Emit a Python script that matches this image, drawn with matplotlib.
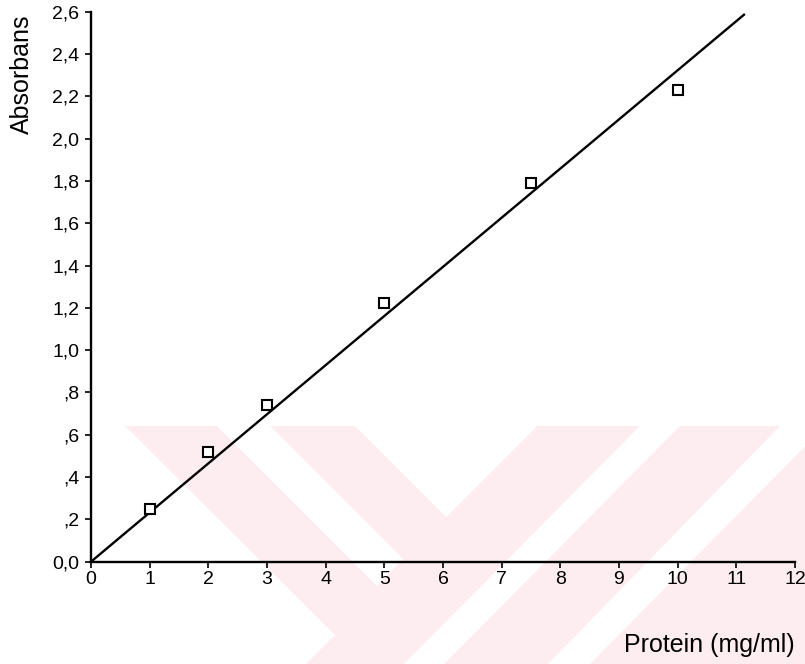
import numpy as np
import matplotlib
matplotlib.use("Agg")
import matplotlib.pyplot as plt
from matplotlib.patches import Polygon

# ---- data
protein = [1, 2, 3, 5, 7.5, 10]             # mg/ml
absorb = [0.25, 0.52, 0.74, 1.225, 1.79, 2.23]
line_x_end = 11.13                          # where the fitted line stops

x_ticks = list(range(0, 13))
y_ticks = [0.0, 0.2, 0.4, 0.6, 0.8, 1.0, 1.2, 1.4, 1.6, 1.8, 2.0, 2.2, 2.4, 2.6]
y_tick_labels = ['0,0', ',2', ',4', ',6', ',8', '1,0', '1,2', '1,4', '1,6',
                 '1,8', '2,0', '2,2', '2,4', '2,6']

# least squares line through the origin
slope = np.sum(np.array(protein) * np.array(absorb)) / np.sum(np.array(protein) ** 2)
fit_x = np.array([0.0, line_x_end])
fit_y = slope * fit_x

plt.rcParams['font.family'] = ['Liberation Sans', 'DejaVu Sans']

W, H = 805, 664
fig = plt.figure(figsize=(W / 100, H / 100), dpi=100)

# faint pink watermark in the lower part (pixel coords, y from top)
def px(pts):
    return [(x / W, 1 - y / H) for x, y in pts]

pink = '#fdedf0'
fig.patches.append(Polygon(px([(125, 426), (805, 426), (805, 664), (306, 664), (335, 635)]),
                           closed=True, transform=fig.transFigure, fc=pink, ec='none', zorder=-2))
white_bits = [
    [(217, 426), (270, 426), (403, 559), (377, 586)],      # gap between left bands
    [(355, 426), (537, 426), (446, 517)],                  # the V notch
    [(640, 426), (680, 426), (444, 664), (404, 664)],      # first down-left gap
    [(780, 426), (825, 426), (590, 664), (548, 664)],      # second down-left gap
]
for pts in white_bits:
    fig.patches.append(Polygon(px(pts), closed=True, transform=fig.transFigure,
                               fc='white', ec='none', zorder=-1))

ax = fig.add_axes([91 / W, 1 - 561.7 / H, (795 - 91) / W, (561.7 - 11.7) / H])
ax.set_zorder(2)
ax.patch.set_alpha(0)

ax.plot(fit_x, fit_y, color='black', lw=1.7, clip_on=False)
ax.plot(protein, absorb, linestyle='none', marker='s', markersize=6.5,
        markerfacecolor='white', markeredgecolor='black', markeredgewidth=1.5)

ax.set_xlim(0, 12)
ax.set_ylim(0, 2.6)
ax.set_xticks(x_ticks)
ax.set_xticklabels([str(t) for t in x_ticks])
ax.set_yticks(y_ticks)
ax.set_yticklabels(y_tick_labels)

ax.spines['top'].set_visible(False)
ax.spines['right'].set_visible(False)
ax.spines['left'].set_linewidth(1.7)
ax.spines['bottom'].set_linewidth(1.7)
ax.tick_params(axis='both', direction='out', length=4.5, width=1.2, labelsize=14, colors='black')
ax.tick_params(axis='x', pad=2)
ax.tick_params(axis='y', pad=4)

fig.text(22 / W, 1 - 74 / H, 'Absorbans', rotation=90, ha='center', va='center', fontsize=18)
fig.text(795 / W, 1 - 652 / H, 'Protein (mg/ml)', ha='right', va='baseline', fontsize=18)

fig.savefig('out.png', dpi=100)
